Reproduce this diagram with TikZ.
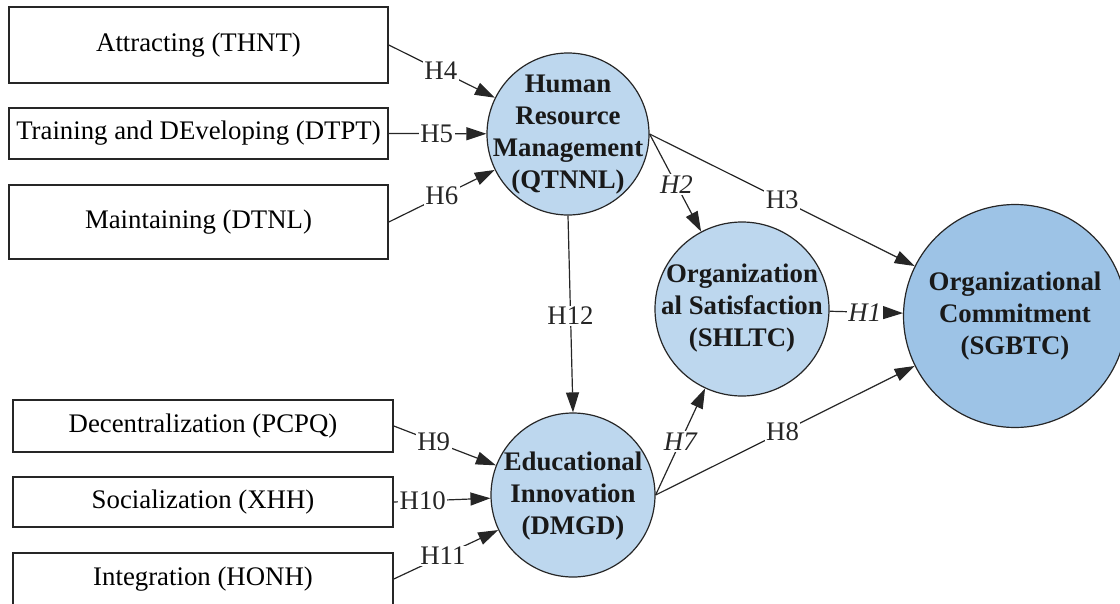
\documentclass[tikz,border=0pt]{standalone}
\usepackage{fontspec}
\setmainfont{Liberation Serif}
\usetikzlibrary{arrows.meta}
\definecolor{lblue}{RGB}{189,215,238}
\definecolor{dblue}{RGB}{157,195,230}
\begin{document}
\begin{tikzpicture}[x=1pt,y=-1pt,
 box/.style={draw=black!85, line width=1.6pt, inner sep=0pt, font=\fontsize{26.8}{32}\selectfont},
 circ/.style={circle, draw=black!85, line width=1.2pt, fill=lblue, inner sep=0pt},
 ctext/.style={align=center, inner sep=0pt, font=\fontsize{26.8}{32}\selectfont\bfseries, text=black!90},
 conn/.style={line width=1.2pt, draw=black!85, -{Triangle[length=20pt,width=13pt]}},
 hl/.style={fill=white, inner sep=1.5pt, font=\fontsize{26.8}{30}\selectfont, text=black!85},
 hli/.style={hl, font=\fontsize{26.8}{30}\selectfont\itshape}]
\useasboundingbox (0,0) rectangle (1120,603);
% boxes
\node[box, minimum width=379pt, minimum height=76pt] (a) at (198.5,45) {Attracting (THNT)};
\node[box, minimum width=379pt, minimum height=51pt] (t) at (198.5,133.5) {Training and DEveloping (DTPT)};
\node[box, minimum width=379pt, minimum height=74pt] (m) at (198.5,222) {Maintaining (DTNL)};
\node[box, minimum width=380pt, minimum height=52pt] (d) at (203,426) {Decentralization (PCPQ)};
\node[box, minimum width=380pt, minimum height=50pt] (s) at (203,502) {Socialization (XHH)};
\node[box, minimum width=380pt, minimum height=52pt] (i) at (203,579) {Integration (HONH)};
% circles
\node[circ, minimum size=162pt] (hrm) at (568,134) {};
\node[circ, minimum size=174pt] (os) at (742,309) {};
\node[circ, minimum size=164pt] (ei) at (573,495) {};
\node[circ, minimum size=223pt, fill=dblue] (oc) at (1015,316) {};
\node[ctext] (hrmt) at (568,135) {Human\\Resource\\Management\\(QTNNL)};
\node[ctext] (ost) at (742,308) {Organization\\al Satisfaction\\(SHLTC)};
\node[ctext] (eit) at (573,496) {Educational\\Innovation\\(DMGD)};
\node[ctext] (oct) at (1015,316) {Organizational\\Commitment\\(SGBTC)};
% connectors
\draw[conn] (a.east) -- node[hl, pos=0.49] {H4} (hrm);
\draw[conn] (t.east) -- node[hl, pos=0.49] {H5} (hrm);
\draw[conn] (m.east) -- node[hl, pos=0.5] {H6} (hrm);
\draw[conn] (hrm.east) -- node[hl, pos=0.5] {H3} (oc);
\draw[conn] (hrm.east) -- node[hli, pos=0.52] {H2} (os);
\draw[conn] (os) -- node[hli, pos=0.48] {H1} (oc);
\draw[conn] (hrm.south) -- node[hl, pos=0.51] {H12} (ei.north);
\draw[conn] (ei.east) -- node[hli, pos=0.5] {H7} (os);
\draw[conn] (ei.east) -- node[hl, pos=0.49] {H8} (oc);
\draw[conn] (d.east) -- node[hl, pos=0.39] {H9} (ei);
\draw[conn] (s.east) -- node[hl, pos=0.3] {H10} (ei);
\draw[conn] (i.east) -- node[hl, pos=0.47] {H11} (ei);
\end{tikzpicture}
\end{document}
